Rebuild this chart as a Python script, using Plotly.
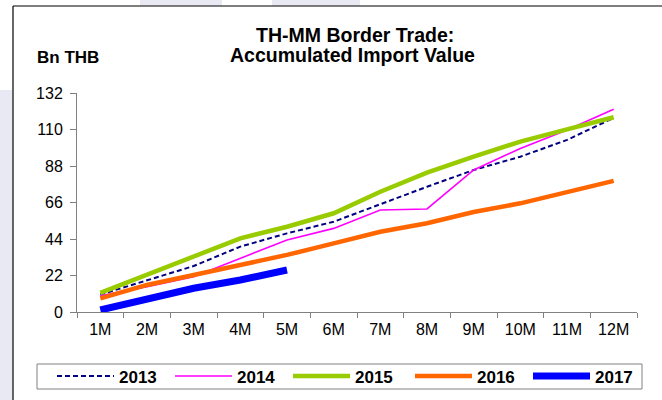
import plotly.graph_objects as go

# Accumulated import value, Bn THB, by month of the year
months = ["1M", "2M", "3M", "4M", "5M", "6M", "7M", "8M", "9M", "10M", "11M", "12M"]
v2013 = [10.5, 19.3, 27.7, 39.4, 47.4, 54.4, 65.1, 75.5, 85.6, 93.6, 103.7, 117.0]
v2014 = [9.8, 15.3, 21.3, 32.3, 43.4, 50.4, 61.5, 62.1, 85.6, 98.6, 109.7, 122.2]
v2015 = [11.5, 22.3, 33.3, 44.4, 51.4, 59.5, 72.5, 84.0, 93.6, 102.7, 110.1, 117.4]
v2016 = [8.2, 16.3, 22.3, 28.3, 34.4, 41.4, 48.4, 53.5, 60.3, 65.5, 72.5, 79.0]
v2017 = [1.2, 8.2, 14.3, 19.3, 25.3]
y_ticks = [0, 22, 44, 66, 88, 110, 132]

# (name, values, line style, legend group box)
series = [
    ("2013", v2013, dict(color="#000080", width=2, dash="5px,3px"), "legend"),
    ("2014", v2014, dict(color="#ff00ff", width=1.6), "legend"),
    ("2015", v2015, dict(color="#99cc00", width=4.5), "legend"),
    ("2016", v2016, dict(color="#ff6600", width=4.5), "legend2"),
    ("2017", v2017, dict(color="#0000ff", width=7), "legend2"),
]

fig = go.Figure()
for name, vals, line, leg in series:
    fig.add_trace(go.Scatter(
        x=months[:len(vals)], y=vals, name=name, mode="lines", line=line, legend=leg,
    ))

W, H = 662, 400
L, R, T, B = 77, 25, 93, 88
pw, ph = W - L - R, H - T - B


def px(x):
    return (x - L) / pw


def py(y):
    return (H - B - y) / ph


lavender = "#e9e9f3"
shapes = [
    # watermark tint around the frame
    dict(type="rect", xref="paper", yref="paper", x0=px(0), x1=px(12.5), y0=py(400), y1=py(90),
         fillcolor=lavender, line_width=0, layer="below"),
    dict(type="rect", xref="paper", yref="paper", x0=px(140), x1=px(222), y0=py(6), y1=py(0),
         fillcolor=lavender, line_width=0, layer="below"),
    dict(type="rect", xref="paper", yref="paper", x0=px(272), x1=px(360), y0=py(6), y1=py(0),
         fillcolor=lavender, line_width=0, layer="below"),
    # chart frame
    dict(type="line", xref="paper", yref="paper", x0=px(13), x1=px(13), y0=py(6), y1=py(400),
         line=dict(color="#000000", width=1.2)),
    dict(type="line", xref="paper", yref="paper", x0=px(13), x1=px(662), y0=py(6), y1=py(6),
         line=dict(color="#000000", width=1.2)),
    # legend box
    dict(type="rect", xref="paper", yref="paper", x0=px(37), x1=px(642), y0=py(389), y1=py(364),
         fillcolor="white", line=dict(color="#808080", width=1), layer="below"),
]

title_font = dict(size=19.5, weight="bold", color="#000000")
legend_common = dict(
    orientation="h",
    xref="container", yref="container",
    xanchor="left", yanchor="middle",
    y=1 - 376.5 / H,
    bgcolor="rgba(0,0,0,0)", borderwidth=0,
    font=dict(size=17, weight="bold", color="#000000"),
    itemwidth=57,
    entrywidth=46,
    traceorder="normal",
)

fig.update_layout(
    width=W, height=H,
    margin=dict(l=L, r=R, t=T, b=B),
    paper_bgcolor="white", plot_bgcolor="white",
    font=dict(family="Arial, Liberation Sans, sans-serif", color="#000000"),
    showlegend=True,
    legend=dict(x=52 / W, **legend_common),
    legend2=dict(x=410 / W, **legend_common),
    shapes=shapes,
    annotations=[
        dict(text="TH-MM Border Trade:", xref="paper", yref="paper", x=px(355), y=py(35),
             xanchor="center", yanchor="middle", showarrow=False, font=title_font),
        dict(text="Accumulated Import Value", xref="paper", yref="paper", x=px(352), y=py(54.5),
             xanchor="center", yanchor="middle", showarrow=False, font=title_font),
        dict(text="Bn THB", xref="paper", yref="paper", x=px(35), y=py(58),
             xanchor="left", yanchor="middle", showarrow=False,
             font=dict(size=17, weight="bold", color="#000000")),
    ],
)

fig.update_xaxes(
    type="category", categoryorder="array", categoryarray=months,
    range=[-0.5, 11.5],
    showline=True, linecolor="#808080", linewidth=1,
    ticks="outside", tickson="boundaries", ticklen=5, tickcolor="#808080",
    showgrid=False, zeroline=False,
    tickfont=dict(size=16, color="#000000"),
    ticklabelstandoff=3,
)
fig.update_yaxes(
    range=[0, 132], tickvals=y_ticks,
    showline=True, linecolor="#808080", linewidth=1,
    ticks="outside", ticklen=6, tickcolor="#808080",
    showgrid=False, zeroline=False,
    tickfont=dict(size=16, color="#000000"),
    ticklabelstandoff=4,
)

fig.write_html("out.html")
